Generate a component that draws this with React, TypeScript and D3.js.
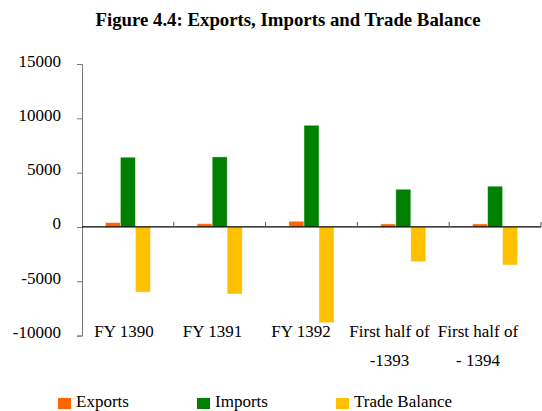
import React from 'react';
import * as d3 from 'd3';

const categories = ['FY 1390', 'FY 1391', 'FY 1392', 'First half of -1393', 'First half of - 1394'];
const labelLines = [['FY 1390'], ['FY 1391'], ['FY 1392'], ['First half of', '-1393'], ['First half of', '- 1394']];
const seriesNames = ['Exports', 'Imports', 'Trade Balance'];
const exportsValues = [400, 300, 525, 280, 280];
const importsValues = [6420, 6450, 9360, 3470, 3750];
const balanceValues = [-6000, -6170, -8810, -3200, -3500];
const yTicks = [-10000, -5000, 0, 5000, 10000, 15000];
const colors = ['#FF6600', '#008000', '#FFC000'];

const renderChart = (svg: any) => {
  const width = 542;
  const height = 411;
  const margin = { top: 64, right: 1, bottom: 75, left: 82 };
  const font = '"Liberation Serif", "Times New Roman", serif';

  svg.selectAll('*').remove();

  const x = d3
    .scaleBand()
    .domain(categories)
    .range([margin.left, width - margin.right])
    .paddingInner(0)
    .paddingOuter(0);
  const xInner = d3
    .scaleBand()
    .domain(seriesNames)
    .range([0, 45]);
  const y = d3
    .scaleLinear()
    .domain([-10000, 15000])
    .range([height - margin.bottom - 0.4, margin.top]);
  // labels sit a bit left of band centers in the original
  const xLabel = d3.scalePoint().domain(categories).range([124, 478]);

  // title
  svg.append('text')
    .attr('x', 288)
    .attr('y', 26)
    .attr('text-anchor', 'middle')
    .attr('font-family', font)
    .attr('font-weight', 'bold')
    .attr('font-size', 18.8)
    .text('Figure 4.4: Exports, Imports and Trade Balance');

  // bars
  const rows = categories.map((c, i) => [exportsValues[i], importsValues[i], balanceValues[i]]);
  const groups = svg.append('g')
    .selectAll('g')
    .data(rows)
    .join('g')
    .attr('transform', (_: any, i: number) => `translate(${x(categories[i])! + (x.bandwidth() - 45) / 2},0)`);
  groups.selectAll('rect')
    .data((d: number[]) => d)
    .join('rect')
    .attr('x', (_: any, j: number) => xInner(seriesNames[j]))
    .attr('width', xInner.bandwidth())
    .attr('y', (d: number) => y(Math.max(0, d)))
    .attr('height', (d: number) => Math.abs(y(d) - y(0)))
    .attr('fill', (_: any, j: number) => colors[j])
    .attr('stroke', 'rgba(255,255,255,0.5)')
    .attr('stroke-width', 0.8);

  // y axis
  const yAxis = svg.append('g')
    .attr('transform', `translate(${margin.left},0)`)
    .call(d3.axisLeft(y).tickValues(yTicks).tickSize(5).tickFormat(() => ''));
  yAxis.select('.domain').attr('stroke', '#777');
  yAxis.selectAll('.tick line').attr('stroke', '#777');
  yAxis.selectAll('.tick text').remove();
  svg.append('g')
    .selectAll('text')
    .data(yTicks)
    .join('text')
    .attr('x', 61)
    .attr('y', (d: number) => y(d) + 2.5)
    .attr('text-anchor', 'end')
    .attr('font-family', font)
    .attr('font-size', 17)
    .text((d: number) => String(d));

  // zero line with category ticks
  svg.append('line')
    .attr('x1', margin.left)
    .attr('x2', width - margin.right)
    .attr('y1', y(0))
    .attr('y2', y(0))
    .attr('stroke', '#000')
    .attr('stroke-width', 1.2);
  svg.append('g')
    .selectAll('line')
    .data(categories.slice(1).concat(['end']))
    .join('line')
    .attr('x1', (d: string) => (d === 'end' ? width - margin.right : x(d)!))
    .attr('x2', (d: string) => (d === 'end' ? width - margin.right : x(d)!))
    .attr('y1', y(0) - 5)
    .attr('y2', y(0))
    .attr('stroke', '#555');

  // category labels
  const labels = svg.append('g')
    .selectAll('text')
    .data(categories)
    .join('text')
    .attr('text-anchor', 'middle')
    .attr('font-family', font)
    .attr('font-size', 17);
  labels.selectAll('tspan')
    .data((_: string, i: number) => labelLines[i].map(t => ({ t, i })))
    .join('tspan')
    .attr('x', (d: any) => xLabel(categories[d.i]))
    .attr('y', (_: any, k: number) => 337 + k * 29)
    .text((d: any) => d.t);

  // legend
  const legendX = [58, 197, 336];
  const legend = svg.append('g')
    .selectAll('g')
    .data(seriesNames)
    .join('g')
    .attr('transform', (_: any, i: number) => `translate(${legendX[i]},398)`);
  legend.append('rect')
    .attr('width', 13)
    .attr('height', 11)
    .attr('fill', (_: any, i: number) => colors[i]);
  legend.append('text')
    .attr('x', 18)
    .attr('y', 9)
    .attr('font-family', font)
    .attr('font-size', 17)
    .text((d: string) => d);
};

const App: React.FC = () => {
  const ref = React.useRef<SVGSVGElement>(null);

  React.useEffect(() => {
    renderChart(d3.select(ref.current));
  }, []);

  return (
    <svg
      ref={ref}
      width={542}
      height={411}
      style={{ position: 'absolute', left: 0, top: 0, background: '#fff' }}
    />
  );
};

export default App;
